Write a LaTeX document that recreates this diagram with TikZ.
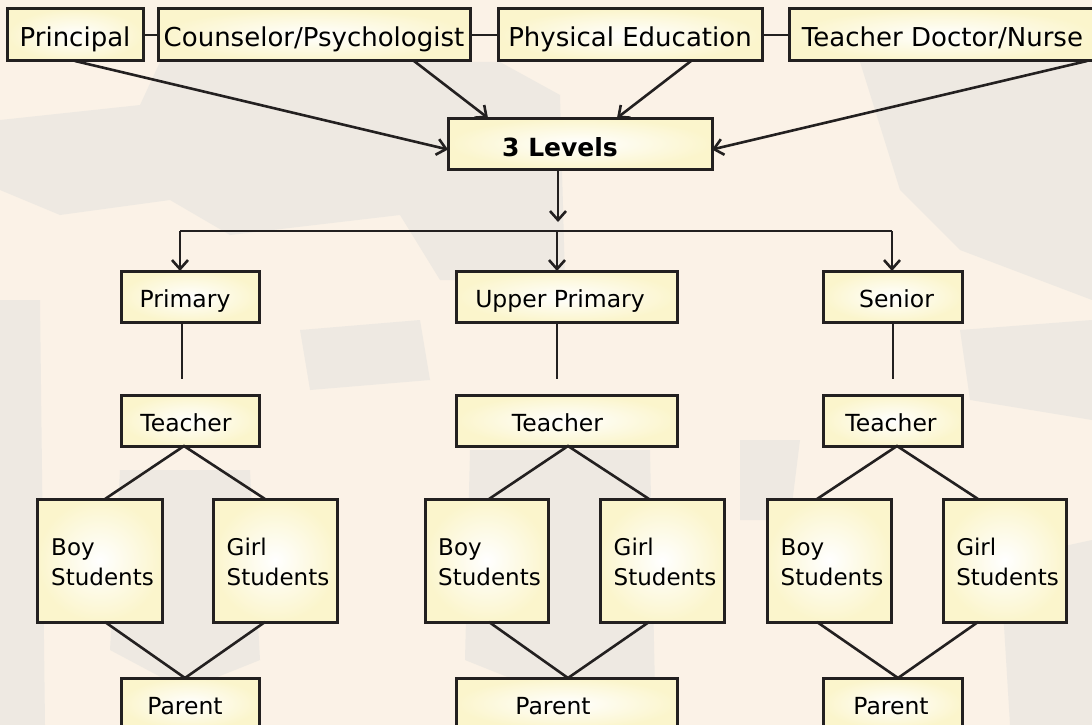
\documentclass[tikz,border=0pt]{standalone}
\usepackage{fontspec}
\setmainfont{DejaVu Sans}
\usetikzlibrary{arrows.meta,calc}

\definecolor{paper}{RGB}{251,242,231}
\definecolor{smoke}{RGB}{234,231,225}
\definecolor{cream}{RGB}{251,245,204}
\definecolor{ink}{RGB}{35,32,32}

% two left-aligned lines inside a student box
\newcommand\twolines[2]{\raisebox{-3.5pt}[\height][\depth]{%
  \begin{tabular}{@{\hspace{6pt}}l@{}}#1\\#2\end{tabular}}}

\tikzset{
  box/.style={rectangle, draw=ink, line width=3pt, shade,
    inner color=white, outer color=cream, anchor=north west,
    inner sep=0pt, outer sep=0pt},
  topbox/.style={box, minimum height=52pt,
    font=\fontsize{26}{30}\selectfont, text height=23pt, text depth=0pt},
  lvlbox/.style={box, minimum height=51pt,
    font=\fontsize{23.5}{30}\selectfont, text height=22pt, text depth=0pt},
  headbox/.style={box, minimum height=51pt,
    font=\fontsize{25}{30}\selectfont\bfseries, text height=25pt, text depth=0pt},
  kidbox/.style={box, minimum height=123pt,
    font=\fontsize{23}{30}\selectfont},
  conn/.style={draw=ink, line width=2.6pt},
  arr/.style={conn, -{Straight Barb[length=9pt,width=16pt]}},
}

\begin{document}
\begin{tikzpicture}[x=1pt, y=-1pt]
\useasboundingbox (0,0) rectangle (1092,725);
\clip (0,0) rectangle (1092,725);

% faded backdrop
\fill[paper] (0,0) rectangle (1092,725);
\begin{scope}[fill=smoke, fill opacity=0.75]
  \fill (160,62) -- (500,62) -- (560,95) -- (565,280) -- (440,280)
        -- (400,215) -- (230,235) -- (170,200) -- (60,215) -- (0,190)
        -- (0,120) -- (140,105) -- cycle;
  \fill (860,62) -- (1092,62) -- (1092,300) -- (960,250) -- (900,190) -- cycle;
  \fill (0,300) -- (40,300) -- (45,725) -- (0,725) -- cycle;
  \fill (120,470) -- (250,470) -- (260,660) -- (185,690) -- (110,650) -- cycle;
  \fill (470,450) -- (650,450) -- (655,690) -- (565,700) -- (465,660) -- cycle;
  \fill (1000,560) -- (1092,540) -- (1092,725) -- (1010,725) -- cycle;
  \fill (740,440) -- (800,440) -- (790,520) -- (740,520) -- cycle;
  \fill (300,330) -- (420,320) -- (430,380) -- (310,390) -- cycle;
  \fill (960,330) -- (1092,320) -- (1092,420) -- (970,400) -- cycle;
\end{scope}

% top row of staff
\node[topbox, minimum width=136pt] (principal) at (7,9) {Principal};
\node[topbox, minimum width=312pt] (counselor) at (158,9) {Counselor/Psychologist};
\node[topbox, minimum width=264pt] (physed) at (498,9) {Physical Education};
\node[topbox, minimum width=307pt] (doctor) at (789,9) {Teacher Doctor/Nurse};

% centre box
\node[headbox, minimum width=264pt] (levels) at (448,118) {\hspace*{-40pt}3 Levels};

% level boxes
\node[lvlbox, minimum width=138pt] (primary) at (121,271) {\hspace*{-10pt}Primary};
\node[lvlbox, minimum width=221pt] (upper) at (456,271) {\hspace*{-13pt}Upper Primary};
\node[lvlbox, minimum width=139pt] (senior) at (823,271) {\hspace*{8pt}Senior};

% teachers
\node[lvlbox, minimum width=138pt] (teachA) at (121,395) {\hspace*{-8pt}Teacher};
\node[lvlbox, minimum width=221pt] (teachB) at (456,395) {\hspace*{-18pt}Teacher};
\node[lvlbox, minimum width=139pt] (teachC) at (823,395) {\hspace*{-3pt}Teacher};

% students
\node[kidbox, minimum width=125pt] (boyA) at (37,499) {\twolines{Boy}{Students}};
\node[kidbox, minimum width=124pt] (girlA) at (213,499) {\twolines{Girl}{Students}};
\node[kidbox, minimum width=123pt] (boyB) at (425,499) {\twolines{Boy}{Students}};
\node[kidbox, minimum width=124pt] (girlB) at (600,499) {\twolines{Girl}{Students}};
\node[kidbox, minimum width=124pt] (boyC) at (767,499) {\twolines{Boy}{Students}};
\node[kidbox, minimum width=123pt] (girlC) at (943,499) {\twolines{Girl}{Students}};

% parents
\node[lvlbox, minimum width=138pt] (parentA) at (121,678) {\hspace*{-10pt}Parent};
\node[lvlbox, minimum width=221pt] (parentB) at (456,678) {\hspace*{-27pt}Parent};
\node[lvlbox, minimum width=139pt] (parentC) at (823,678) {\hspace*{-3pt}Parent};

% links along the top row
\draw[conn] (principal.east) -- (counselor.west);
\draw[conn] (counselor.east) -- (physed.west);
\draw[conn] (physed.east) -- (doctor.west);

% staff feeding into the centre box
\draw[arr] (principal.south) -- ([yshift=-6pt]levels.west);
\draw[arr] ([xshift=-56pt]counselor.south east) -- ([xshift=40pt]levels.north west);
\draw[arr] ([xshift=-71pt]physed.south east) -- ([xshift=-95pt]levels.north east);
\draw[arr] ([xshift=-9pt]doctor.south east) -- ([yshift=-6pt]levels.east);

% distribution bus
\coordinate (split) at (558,222);
\coordinate (busL) at (180,231);
\coordinate (busM) at (557,231);
\coordinate (busR) at (892,231);
\draw[arr] ([xshift=-22pt]levels.south) -- (split);
\draw[conn] (busL) -- (busR);
\draw[arr] (busL) -- (busL |- primary.north);
\draw[arr] (busM) -- (busM |- upper.north);
\draw[arr] (busR) -- (busR |- senior.north);

% level to teacher stubs
\coordinate (stubA) at (182,379);
\coordinate (stubB) at (557,379);
\coordinate (stubC) at (893,379);
\draw[conn] (stubA |- primary.south) -- (stubA);
\draw[conn] (stubB |- upper.south) -- (stubB);
\draw[conn] (stubC |- senior.south) -- (stubC);

% diamonds: teacher -> students -> parent
\draw[conn] ([xshift=68pt]boyA.north west) -- ([xshift=-6pt]teachA.south)
            -- ([xshift=52pt]girlA.north west);
\draw[conn] ([xshift=68pt]boyA.south west) -- ([xshift=-5pt]parentA.north)
            -- ([xshift=52pt]girlA.south west);
\draw[conn] ([xshift=64pt]boyB.north west) -- ([xshift=1.5pt]teachB.south)
            -- ([xshift=49pt]girlB.north west);
\draw[conn] ([xshift=64pt]boyB.south west) -- ([xshift=1.5pt]parentB.north)
            -- ([xshift=49pt]girlB.south west);
\draw[conn] ([xshift=50pt]boyC.north west) -- ([xshift=4.5pt]teachC.south)
            -- ([xshift=35pt]girlC.north west);
\draw[conn] ([xshift=50pt]boyC.south west) -- ([xshift=5.5pt]parentC.north)
            -- ([xshift=35pt]girlC.south west);
\end{tikzpicture}
\end{document}
